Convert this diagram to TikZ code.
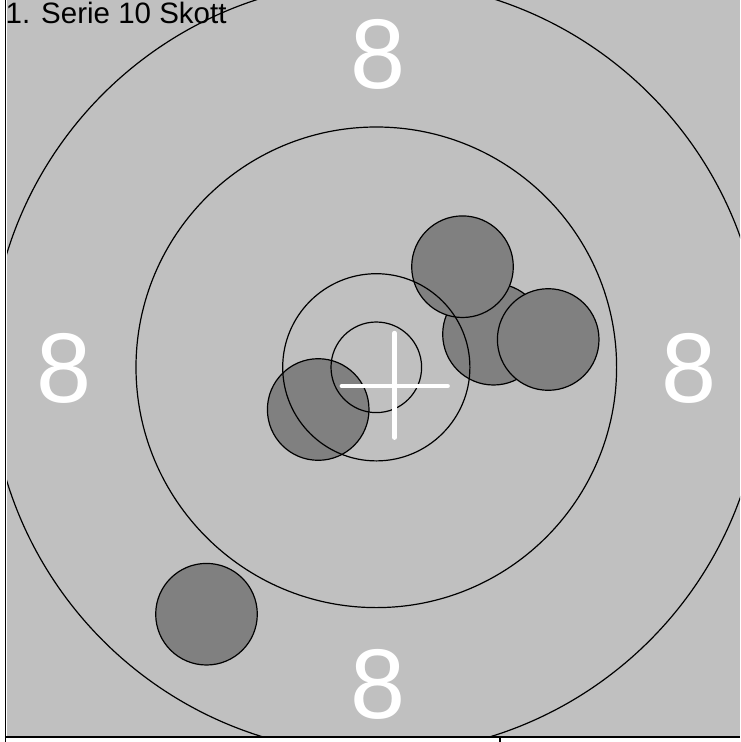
\documentclass[tikz,border=0pt]{standalone}
\usepackage{fontspec}
\setmainfont{Liberation Sans}
\definecolor{targetgray}{HTML}{C0C0C0}
\definecolor{shotgray}{HTML}{808080}
\begin{document}
\begin{tikzpicture}[x=1pt,y=-1pt,
  ring/.style={draw=black,line width=1.2pt},
  shot/.style={draw=black,fill=shotgray,line width=1.2pt},
  scorelabel/.style={text=white,font=\fontsize{99}{99}\selectfont,inner sep=0pt},
  crossline/.style={draw=white,line width=4.3pt,line cap=round},
  frameline/.style={draw=black,line width=1.3pt}]
\useasboundingbox (0,0) rectangle (740,742);
\fill[white] (0,0) rectangle (740,742);
\fill[targetgray] (7,0) rectangle (740,735.5);
\begin{scope}
  \clip (7,0) rectangle (740,735.5);
  % shots
  \draw[shot] (493.5,334.2) circle (50.8pt);
  \draw[shot] (462.5,266.7) circle (50.8pt);
  \draw[shot] (548.2,339.5) circle (50.8pt);
  \draw[shot] (318.2,409.5) circle (50.8pt);
  \draw[shot] (206.5,614.2) circle (50.8pt);
  % rings
  \coordinate (centre) at (376.3,367.3);
  \draw[ring] (centre) circle (45.3pt);
  \draw[ring] (centre) circle (93.6pt);
  \draw[ring] (centre) circle (240.3pt);
  \draw[ring] (centre) circle (386.5pt);
\end{scope}
% aiming cross
\coordinate (crossL) at (341.7,386);
\coordinate (crossR) at (447.7,386);
\coordinate (crossT) at (394.5,333);
\coordinate (crossB) at (394.5,437.7);
\draw[crossline] (crossL) -- (crossR);
\draw[crossline] (crossT) -- (crossB);
% score labels
\node[scorelabel] (topeight) at (378,54) {8};
\node[scorelabel] (lefteight) at (64,368.5) {8};
\node[scorelabel] (righteight) at (689.5,368.5) {8};
\node[scorelabel] (bottomeight) at (378,684) {8};
% title
\node[anchor=base west,inner sep=0pt,font=\fontsize{29.5}{29.5}\selectfont] (title) at (5.5,23.5) {1. Serie 10 Skott};
% frame
\coordinate (frameTL) at (5.5,0);
\coordinate (frameBL) at (5.5,742);
\coordinate (baseL) at (5.5,737);
\coordinate (baseR) at (740,737);
\coordinate (tickT) at (500,737);
\coordinate (tickB) at (500,742);
\draw[frameline] (frameTL) -- (frameBL);
\draw[frameline] (baseL) -- (baseR);
\draw[frameline] (tickT) -- (tickB);
\end{tikzpicture}
\end{document}
